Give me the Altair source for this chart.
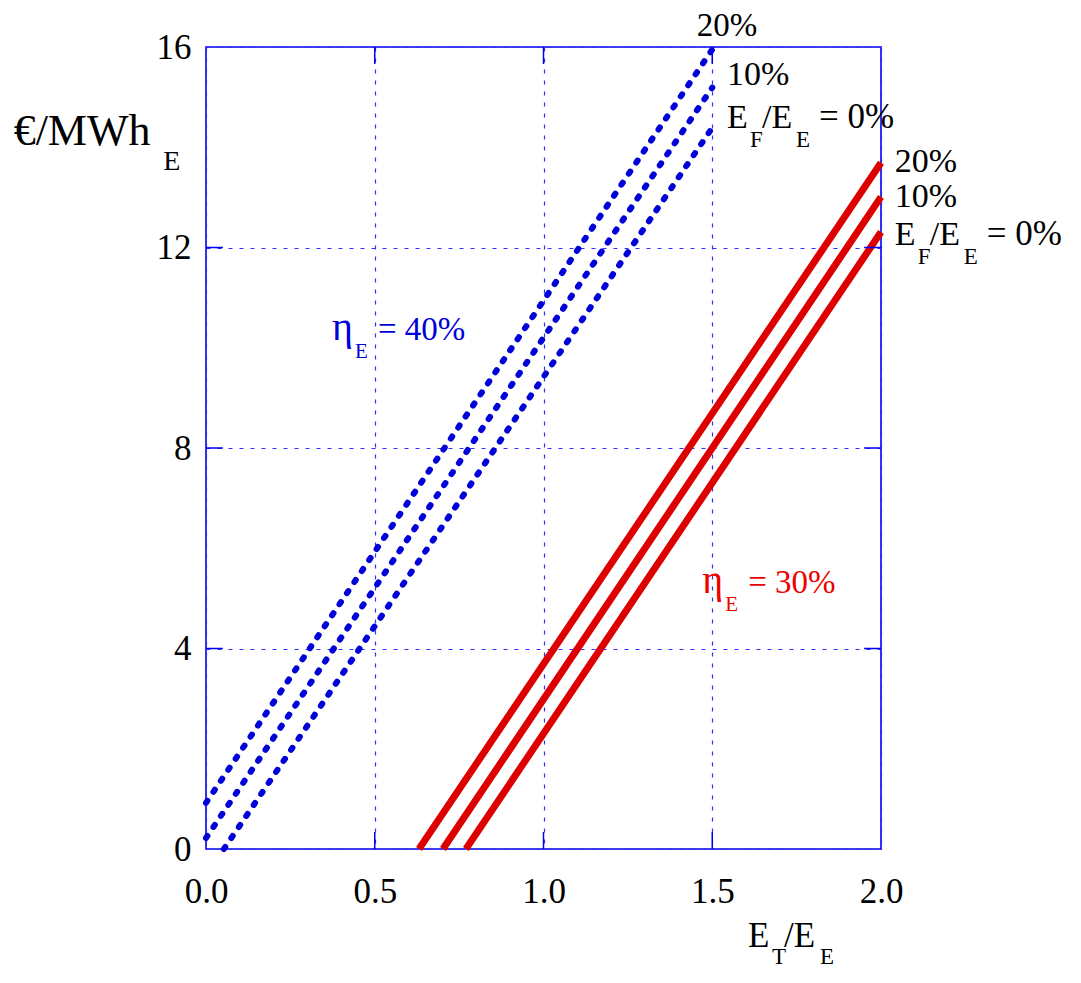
import altair as alt
import pandas as pd

SERIF = "Liberation Serif"
BLUE = "#0000d8"
RED = "#dd0000"
FRAME = "#0000ee"

# ---- data ----
series = ["20%", "10%", "0%"]
# eta_E = 40% (blue, dotted)
blue_x0 = [0.0, 0.0, 0.053]
blue_y0 = [0.92, 0.22, 0.0]
blue_x1 = [1.5, 1.5, 1.5]
blue_y1 = [15.95, 15.19, 14.39]
# eta_E = 30% (red, solid)
red_x0 = [0.631, 0.702, 0.770]
red_y0 = [0.0, 0.0, 0.0]
red_x1 = [2.0, 2.0, 2.0]
red_y1 = [13.69, 13.01, 12.31]

x_ticks = [0.0, 0.5, 1.0, 1.5, 2.0]
y_ticks = [0, 4, 8, 12, 16]
x_inner = [0.5, 1.0, 1.5]
y_inner = [4, 8, 12]


def line_df(x0, y0, x1, y1):
    rows = []
    for s, a, b, c, d in zip(series, x0, y0, x1, y1):
        rows.append({"x": a, "y": b, "s": s})
        rows.append({"x": c, "y": d, "s": s})
    return pd.DataFrame(rows)


xs = alt.Scale(domain=[0, 2], nice=False, zero=False)
ys = alt.Scale(domain=[0, 16], nice=False, zero=False)

grid_kw = dict(grid=True, gridDash=[4, 7], gridColor="#3030ff", gridOpacity=1, gridWidth=1.2)
x_axis = alt.Axis(values=x_ticks, format=".1f", title=None, ticks=False, domain=False,
                  labelFont=SERIF, labelFontSize=35, labelColor="black", labelPadding=25,
                  labelFlush=False, **grid_kw)
y_axis = alt.Axis(values=y_ticks, format="d", title=None, ticks=False, domain=False,
                  labelFont=SERIF, labelFontSize=35, labelColor="black", labelPadding=15,
                  labelFlush=False, labelBaseline="middle", **grid_kw)

blue = alt.Chart(line_df(blue_x0, blue_y0, blue_x1, blue_y1)).mark_line(
    color=BLUE, strokeWidth=6, strokeCap="round", strokeDash=[2.5, 10.8]
).encode(
    x=alt.X("x:Q", scale=xs, axis=x_axis),
    y=alt.Y("y:Q", scale=ys, axis=y_axis),
    detail="s:N",
)

red = alt.Chart(line_df(red_x0, red_y0, red_x1, red_y1)).mark_line(
    color=RED, strokeWidth=7, strokeCap="butt"
).encode(x="x:Q", y="y:Q", detail="s:N")

# inward frame ticks
tl_y, tl_x = 0.34, 0.05
top_t = pd.DataFrame({"x": x_inner, "y": [16] * 3, "y2": [16 - tl_y] * 3})
bot_t = pd.DataFrame({"x": x_inner, "y": [0] * 3, "y2": [tl_y] * 3})
left_t = pd.DataFrame({"y": y_inner, "x": [0] * 3, "x2": [tl_x] * 3})
right_t = pd.DataFrame({"y": y_inner, "x": [2] * 3, "x2": [2 - tl_x] * 3})
ticks = [
    alt.Chart(top_t).mark_rule(color=FRAME, strokeWidth=1.5).encode(x="x:Q", y="y:Q", y2="y2:Q"),
    alt.Chart(bot_t).mark_rule(color=FRAME, strokeWidth=1.5).encode(x="x:Q", y="y:Q", y2="y2:Q"),
    alt.Chart(left_t).mark_rule(color=FRAME, strokeWidth=1.5).encode(y="y:Q", x="x:Q", x2="x2:Q"),
    alt.Chart(right_t).mark_rule(color=FRAME, strokeWidth=1.5).encode(y="y:Q", x="x:Q", x2="x2:Q"),
]


def txt(x, y, text, size, color="black", dx=0, dy=0, align="left"):
    return alt.Chart(pd.DataFrame({"x": [x], "y": [y], "t": [text]})).mark_text(
        font=SERIF, fontSize=size, color=color, align=align, baseline="alphabetic",
        dx=dx, dy=dy
    ).encode(x="x:Q", y="y:Q", text="t:N")


def ratio_label(x, y, color="black"):
    return [
        txt(x, y, "E", 34, color),
        txt(x, y, "F", 23, color, dx=23, dy=19),
        txt(x, y, "/E", 34, color, dx=35),
        txt(x, y, "E", 23, color, dx=69, dy=19),
        txt(x, y, "= 0%", 35, color, dx=92),
    ]


def eta_label(x, y, text, color):
    return [
        txt(x, y, "η", 40, color),
        txt(x, y, "E", 21, color, dx=23, dy=18),
        txt(x, y, text, 33, color, dx=46),
    ]


texts = []
# blue curve labels
texts.append(txt(1.544, 16.22, "20%", 33, align="center"))
texts.append(txt(1.544, 15.24, "10%", 34))
texts += ratio_label(1.544, 14.38)
# red curve labels
texts.append(txt(2.041, 13.51, "20%", 34))
texts.append(txt(2.041, 12.81, "10%", 34))
texts += ratio_label(2.041, 12.05)
# efficiency labels
texts += eta_label(0.373, 10.15, "= 40%", BLUE)
texts += eta_label(1.470, 5.107, "= 30%", "#ee0000")
# axis titles
texts.append(txt(-0.57, 14.05, "€/MWh", 44))
texts.append(txt(-0.127, 13.55, "E", 28))
texts.append(txt(1.606, -1.96, "E", 35))
texts.append(txt(1.606, -1.96, "T", 23, dx=24, dy=17))
texts.append(txt(1.606, -1.96, "/E", 35, dx=36))
texts.append(txt(1.606, -1.96, "E", 23, dx=72, dy=17))

chart = alt.layer(blue, red, *ticks, *texts).properties(
    width=675, height=802,
    autosize=alt.AutoSizeParams(type="none"),
    padding={"left": 198, "top": 39, "right": 185, "bottom": 120},
).configure_view(stroke=FRAME, strokeWidth=1.6)

chart.save("out.html", embed_options={"renderer": "svg", "actions": False})
